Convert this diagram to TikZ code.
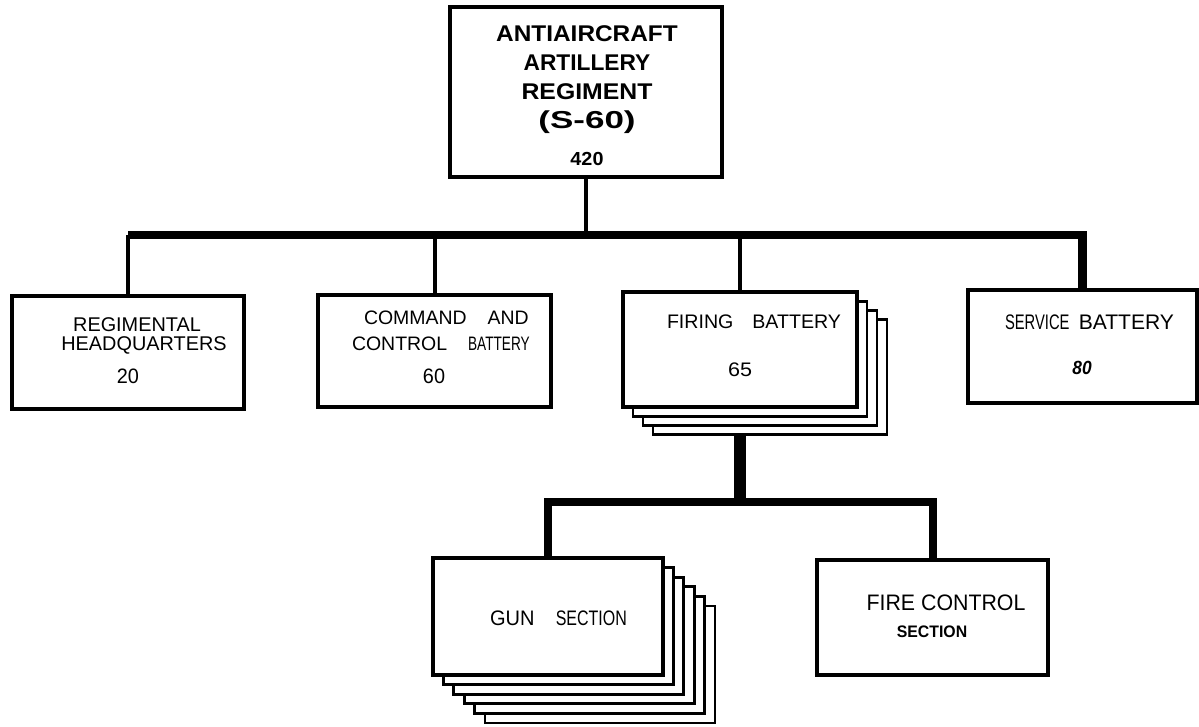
\documentclass[tikz,border=0pt]{standalone}
\usepackage{fontspec}
\setmainfont{Liberation Sans}
\usepackage{graphicx}
\usetikzlibrary{fit}
\newcommand{\tx}[3]{\scalebox{#1}[#2]{#3}}
\newcommand{\fsz}[1]{\fontsize{#1}{#1}\selectfont}
\begin{document}
\begin{tikzpicture}[x=0.75pt,y=-0.75pt,
  box/.style={draw,line width=3.2pt,fill=white,inner sep=0pt,outer sep=0pt},
  back/.style={draw,line width=2.2pt,fill=white,inner sep=0pt,outer sep=0pt},
  lbl/.style={inner sep=0pt,outer sep=0pt},
  drop/.style={line width=3pt},
  bus/.style={line width=6.3pt,line join=miter},
  lbus/.style={line width=6pt,line join=miter},
  stem/.style={line width=8.7pt}]
\useasboundingbox (0,0) rectangle (1199,727);

% ---- coordinates of the bus lines
\coordinate (busy) at (0,235);
\coordinate (lbusy) at (0,502);

% ---- stacked copies (drawn first, behind)
\foreach \i in {3,2,1}{
  \node[back,fit={({623+10*\i},{292+9.3*\i}) ({857+10*\i},{407+9.3*\i})}] (fb\i) {};
}
\foreach \i in {5,4,3,2,1}{
  \node[back,fit={({433+10.4*\i},{558+9.6*\i}) ({663+10.4*\i},{675+9.6*\i})}] (gs\i) {};
}

% ---- boxes
\node[box,fit={(450,7) (722,177)}] (top) {};
\node[box,fit={(12,296) (244,409)}] (rhq) {};
\node[box,fit={(318,295) (551,407)}] (cc) {};
\node[box,fit={(623,292) (857,407)}] (fb) {};
\node[box,fit={(968,290) (1197,403)}] (svc) {};
\node[box,fit={(433,558) (663,675)}] (gs) {};
\node[box,fit={(817,560) (1048,675)}] (fc) {};

% ---- connectors
\draw[drop,line width=3.5pt] (top.south) -- (top.south |- busy);
\draw[bus] (rhq.north |- busy) -- (svc.north |- busy) -- (svc.north);
\draw[drop] (rhq.north |- busy) -- (rhq.north);
\draw[drop] (cc.north |- busy) -- (cc.north);
\draw[drop] (fb.north |- busy) -- (fb.north);
\draw[stem] (fb.south |- fb3.south) -- (fb.south |- lbusy);
\draw[lbus] (gs.north) |- (fc.north |- lbusy) -- (fc.north);

% ---- texts
\node[lbl] (t1) at (587,34) {\fsz{15.5}\bfseries\tx{1.18}{1.1}{ANTIAIRCRAFT}};
\node[lbl] (t2) at (587,63) {\fsz{15.5}\bfseries\tx{1.1}{1.1}{ARTILLERY}};
\node[lbl] (t3) at (587,92) {\fsz{15.5}\bfseries\tx{1.2}{1.1}{REGIMENT}};
\node[lbl] (t4) at (587,122) {\fsz{17.5}\bfseries\tx{1.5}{1.05}{(S-60)}};
\node[lbl] (t5) at (587,159) {\fsz{13.5}\bfseries\tx{1.1}{1.05}{420}};

\node[lbl] (r1) at (137,325) {\fsz{14.9}REGIMENTAL};
\node[lbl] (r2) at (144,345) {\fsz{14.9}HEADQUARTERS};
\node[lbl] (r3) at (128,376) {\fsz{14.9}\tx{1}{1.05}{20}};

\node[lbl,anchor=west] (c1) at (364,318) {\fsz{14.6}COMMAND\hspace{15.7pt}AND};
\node[lbl,anchor=west] (c2) at (352,344) {\fsz{14.6}CONTROL\hspace{15.7pt}\tx{0.7}{1}{BATTERY}};
\node[lbl] (c3) at (434,376) {\fsz{14.9}\tx{1}{1.05}{60}};

\node[lbl,anchor=west] (f1) at (667,322) {\fsz{14.7}FIRING\hspace{14.2pt}BATTERY};
\node[lbl] (f2) at (740,370) {\fsz{14.7}\tx{1.1}{1.0}{65}};

\node[lbl,anchor=west] (s1) at (1005,322) {\fsz{15.8}\tx{0.7}{1}{SERVICE}\hspace{7pt}BATTERY};
\node[lbl] (s2) at (1082,368) {\fsz{13}\bfseries\itshape\tx{1}{1.1}{80}};

\node[lbl,anchor=west] (g1) at (490,618) {\fsz{15}\tx{1}{1.05}{GUN\hspace{16pt}\tx{0.8}{1}{SECTION}}};

\node[lbl] (k1) at (946,603) {\fsz{16}\tx{1}{1.05}{FIRE CONTROL}};
\node[lbl] (k2) at (932,632) {\fsz{12.5}\bfseries\tx{0.95}{1}{SECTION}};
\end{tikzpicture}
\end{document}
